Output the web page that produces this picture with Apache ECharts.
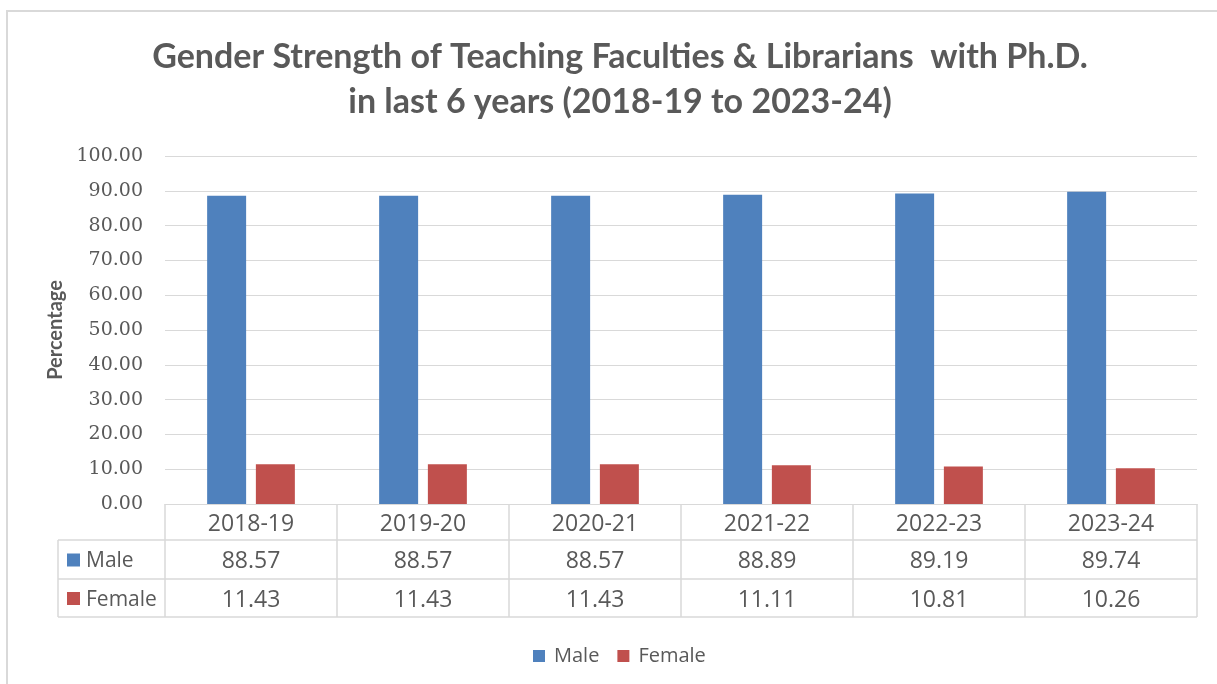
<!DOCTYPE html>
<html>
<head>
<meta charset="utf-8">
<script src="https://cdn.jsdelivr.net/npm/echarts@6/dist/echarts.min.js"></script>
<style>
html, body { margin: 0; padding: 0; background: #fff; }
#chart { width: 1217px; height: 684px; }
</style>
</head>
<body>
<div id="chart"></div>
<script>
var years = ['2018-19', '2019-20', '2020-21', '2021-22', '2022-23', '2023-24'];
var maleValues = [88.57, 88.57, 88.57, 88.89, 89.19, 89.74];
var femaleValues = [11.43, 11.43, 11.43, 11.11, 10.81, 10.26];
var seriesNames = ['Male', 'Female'];
var seriesColors = ['#4F81BD', '#C0504D'];

var textColor = '#595959';
var lineColor = '#D9D9D9';
var titleFont = 'Lato';
var sansFont = 'Open Sans';

var chart = echarts.init(document.getElementById('chart'));

var option = {
    animation: false,
    backgroundColor: '#fff',
    title: {
        text: 'Gender Strength of Teaching Faculties & Librarians  with Ph.D.\nin last 6 years (2018-19 to 2023-24)',
        left: 615,
        top: 30,
        textAlign: 'center',
        textStyle: {
            fontFamily: titleFont,
            fontWeight: 'bold',
            fontSize: 34,
            lineHeight: 45,
            color: textColor
        }
    },
    legend: {
        bottom: 13,
        left: 528,
        itemWidth: 12,
        itemHeight: 12,
        itemGap: 18,
        icon: 'rect',
        textStyle: { fontFamily: sansFont, fontSize: 20, color: textColor, padding: [0, 0, 0, 4] },
        data: seriesNames
    },
    grid: { left: 165, right: 20, top: 156, bottom: 180 },
    xAxis: {
        type: 'category',
        data: years,
        axisLine: { lineStyle: { color: lineColor } },
        axisTick: { show: false },
        axisLabel: { show: false }
    },
    yAxis: {
        type: 'value',
        min: 0,
        max: 100,
        interval: 10,
        name: 'Percentage',
        nameLocation: 'middle',
        nameGap: 98,
        nameTextStyle: { fontFamily: titleFont, fontWeight: 'bold', fontSize: 20, color: textColor },
        axisLabel: {
            fontFamily: 'DejaVu Serif',
            fontSize: 19,
            color: textColor,
            margin: 22,
            formatter: function (v) { return v.toFixed(2); }
        },
        splitLine: { lineStyle: { color: lineColor } }
    },
    series: [
        {
            name: seriesNames[0],
            type: 'bar',
            data: maleValues,
            itemStyle: { color: seriesColors[0] },
            barGap: '25%',
            barCategoryGap: '49%'
        },
        {
            name: seriesNames[1],
            type: 'bar',
            data: femaleValues,
            itemStyle: { color: seriesColors[1] },
            barGap: '25%',
            barCategoryGap: '49%'
        }
    ]
};
chart.setOption(option);

// data table under the x axis, placed from the axis scale
var axisY = chart.convertToPixel({ yAxisIndex: 0 }, 0);
var c0 = chart.convertToPixel({ xAxisIndex: 0 }, 0);
var c1 = chart.convertToPixel({ xAxisIndex: 0 }, 1);
var band = c1 - c0;
var leftEdge = c0 - band / 2;
var rightEdge = leftEdge + band * years.length;
var rowH = [36, 39, 38];
var rowTop = [axisY, axisY + rowH[0], axisY + rowH[0] + rowH[1]];
var tableBottom = rowTop[2] + rowH[2];
var labelColLeft = 58;
var textShift = 2;

var g = [];
var lineStyle = { stroke: lineColor, lineWidth: 1.5 };
// chart border
g.push({ type: 'rect', shape: { x: 7, y: 11, width: 1230, height: 700 }, style: { fill: null, stroke: '#D9D9D9', lineWidth: 2 }, silent: true });
// horizontal lines
g.push({ type: 'line', shape: { x1: labelColLeft, y1: rowTop[1], x2: rightEdge, y2: rowTop[1] }, style: lineStyle });
g.push({ type: 'line', shape: { x1: labelColLeft, y1: rowTop[2], x2: rightEdge, y2: rowTop[2] }, style: lineStyle });
g.push({ type: 'line', shape: { x1: labelColLeft, y1: tableBottom, x2: rightEdge, y2: tableBottom }, style: lineStyle });
// vertical lines
g.push({ type: 'line', shape: { x1: labelColLeft, y1: rowTop[1], x2: labelColLeft, y2: tableBottom }, style: lineStyle });
for (var i = 0; i <= years.length; i++) {
    var x = leftEdge + band * i;
    g.push({ type: 'line', shape: { x1: x, y1: axisY, x2: x, y2: tableBottom }, style: lineStyle });
}
// header row: categories
years.forEach(function (y, i) {
    g.push({ type: 'text', x: c0 + band * i, y: rowTop[0] + rowH[0] / 2 + textShift, style: { text: y, fontFamily: sansFont, fontSize: 23, fill: textColor, align: 'center', verticalAlign: 'middle' } });
});
// value rows
var rows = [maleValues, femaleValues];
rows.forEach(function (vals, r) {
    var cy = rowTop[r + 1] + rowH[r + 1] / 2;
    g.push({ type: 'rect', shape: { x: 67, y: cy - 6, width: 13, height: 13 }, style: { fill: seriesColors[r] } });
    g.push({ type: 'text', x: 86, y: cy + textShift, style: { text: seriesNames[r], fontFamily: sansFont, fontSize: 21, fill: textColor, align: 'left', verticalAlign: 'middle' } });
    vals.forEach(function (v, i) {
        g.push({ type: 'text', x: c0 + band * i, y: cy + textShift, style: { text: v.toFixed(2), fontFamily: sansFont, fontSize: 23, fill: textColor, align: 'center', verticalAlign: 'middle' } });
    });
});
chart.setOption({ graphic: g });
</script>
</body>
</html>
